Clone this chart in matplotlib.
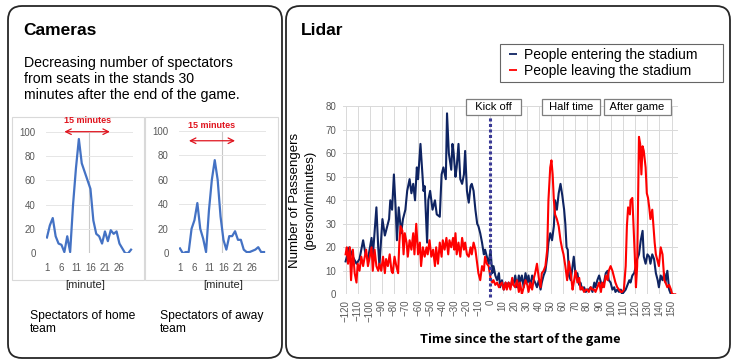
import matplotlib.pyplot as plt
from matplotlib.patches import FancyBboxPatch, Rectangle
from matplotlib.lines import Line2D

plt.rcParams['font.family'] = ['Liberation Sans', 'DejaVu Sans']

# ---- camera counts, minutes after the end of the game ----
minutes = list(range(1, 31))
home = [13, 23, 29, 14, 8, 7, 1, 14, 1, 40, 70, 94, 74, 67, 60, 53, 27, 16, 14, 8,
        18, 10, 19, 16, 18, 8, 4, 0, 0, 3]
away = [4, 0, 1, 1, 20, 27, 41, 20, 12, 1, 35, 60, 76, 60, 30, 11, 3, 14, 14, 18,
        11, 11, 3, 1, 1, 2, 3, 5, 1, 1]
minute_ticks = [1, 6, 11, 16, 21, 26]
home_window = (7.0, 22.7)
away_window = (4.1, 20.0)

# ---- lidar counts, minutes since kick off ----
enter_t = [-120, -117, -114, -111, -108.5, -105.5, -103.5, -101.5, -98.5, -97.5,
           -94.5, -93, -92, -89.5, -87.5, -85.5, -84, -83, -81.5, -80,
           -78.5, -77.5, -76, -74, -72.5, -70.5, -69, -67, -65.5, -64,
           -62.5, -61, -60, -58, -57, -55.5, -54.5, -52.5, -51.5, -50,
           -48, -46, -44.5, -42, -40.5, -39, -37, -36, -34.5, -32.5,
           -31.5, -30.5, -29, -28, -26.5, -25, -23.5, -22, -21, -19.5,
           -18, -16.5, -15.5, -14, -12.5, -11, -10, -8.5, -7, -5.5,
           -4.5, -3, -1.5, 0, 1.5, 2.5, 4, 5.5, 7, 8,
           9.5, 11, 12.5, 13.5, 15, 16.5, 18, 19, 20.5, 22,
           23.5, 24.5, 26, 27.5, 29, 30.5, 31.5, 33, 34.5, 36,
           37, 38.5, 40, 41.5, 42.5, 44, 45.5, 47, 48, 49.5,
           51, 52.5, 53.5, 55, 56.5, 58, 59.5, 61, 62, 63,
           64, 65, 66.5, 68, 69, 70.5, 72, 73.5, 74.5, 76,
           77.5, 79, 80, 81.5, 83, 84.5, 86, 87, 88.5, 90,
           91.5, 92.5, 94, 95.5, 97, 98, 99.5, 101, 102.5, 103.5,
           105, 106.5, 108, 109, 110.5, 112, 113.5, 115, 116, 117.5,
           119, 120.5, 121.5, 123, 124.5, 126, 127, 128.5, 130, 131.5,
           132.5, 134, 135.5, 137, 138.5, 139.5, 141, 142.5, 144, 145,
           146.5, 148, 149.5, 151]
enter_v = [14, 20, 16, 13, 15, 23, 17, 15, 24, 16,
           37, 20, 12, 32, 25, 29, 32, 40, 36, 51,
           36, 23, 37, 26, 32, 36, 44, 49, 43, 47,
           40, 54, 49, 64, 56, 44, 46, 22, 40, 44,
           36, 40, 34, 33, 51, 54, 49, 77, 60, 53,
           64, 60, 50, 54, 64, 49, 47, 51, 61, 44,
           39, 46, 47, 44, 36, 30, 29, 26, 22, 17,
           19, 16, 13, 19, 9, 12, 8, 6, 9, 3,
           6, 2, 5, 3, 5, 3, 6, 4, 8, 3,
           8, 5, 8, 3, 9, 5, 8, 3, 8, 6,
           5, 3, 6, 2, 5, 8, 10, 16, 22, 26,
           23, 29, 40, 36, 43, 47, 42, 36, 30, 20,
           19, 8, 6, 12, 16, 8, 9, 4, 5, 2,
           3, 1, 2, 2, 3, 1, 5, 3, 6, 8,
           5, 3, 5, 9, 10, 6, 5, 2, 3, 1,
           2, 1, 2, 0, 1, 2, 4, 6, 5, 8,
           9, 12, 15, 17, 23, 27, 16, 13, 17, 16,
           13, 17, 15, 9, 6, 3, 8, 6, 9, 5,
           10, 2, 0, 0]

leave_t = [-120, -119, -118, -116.5, -115.5, -114, -112.5, -111, -110, -108.5,
           -107, -105.5, -104.5, -103, -101.5, -100, -98.5, -97.5, -96, -94.5,
           -93, -92, -90.5, -89, -87.5, -86.5, -85, -83.5, -82, -81,
           -79.5, -78, -76.5, -75.5, -74.5, -73, -72, -71, -69.5, -68.5,
           -67, -65.5, -64, -63, -61.5, -60, -58.5, -57.5, -56, -54.5,
           -53, -52, -50.5, -49, -47.5, -46, -45, -43.5, -42, -40.5,
           -39.5, -38, -36.5, -35, -34, -32.5, -31, -30, -29, -28,
           -26.5, -25, -23.5, -22, -21, -19.5, -18, -16.5, -15.5, -14,
           -12.5, -11, -10, -8.5, -7, -5.5, -4.5, -3, -1.5, 0,
           1.5, 2.5, 4, 5.5, 7, 8, 9.5, 11, 12.5, 13.5,
           15, 16.5, 18, 19, 20.5, 22, 23.5, 24.5, 26, 27.5,
           29, 30.5, 31.5, 33, 34.5, 36, 37, 38.5, 40, 41.5,
           42.5, 44, 45.5, 47, 48, 49.5, 50.5, 51.5, 52.5, 53.5,
           55, 56.5, 58, 59.5, 60.5, 62, 63.5, 65, 66.5, 68,
           69, 70.5, 72, 73.5, 74.5, 76, 77.5, 79, 80, 81.5,
           83, 84.5, 86, 87, 88.5, 90, 91.5, 92.5, 94, 95.5,
           97, 98, 99.5, 101, 102.5, 103.5, 105, 106.5, 108, 109,
           110.5, 112, 113, 114, 115.5, 116, 117.5, 118.5, 119.5, 120.5,
           121.5, 123, 124, 125, 126, 127, 128.5, 129.5, 130.5, 131.5,
           132.5, 134, 135, 136, 137, 138, 139.5, 141, 142.5, 144,
           145, 146.5, 148, 149.5, 150.5, 153]
leave_v = [17, 20, 13, 20, 6, 19, 9, 5, 13, 10,
           16, 12, 15, 19, 12, 16, 20, 10, 19, 12,
           10, 13, 10, 16, 9, 15, 12, 17, 10, 9,
           16, 12, 9, 22, 29, 27, 17, 26, 22, 16,
           23, 19, 26, 17, 30, 17, 22, 12, 20, 16,
           20, 17, 23, 16, 19, 12, 20, 13, 22, 16,
           23, 19, 24, 17, 23, 20, 24, 19, 26, 17,
           22, 16, 24, 19, 22, 17, 16, 20, 17, 22,
           19, 13, 9, 6, 12, 10, 16, 13, 12, 7,
           5, 6, 4, 5, 3, 4, 5, 2, 5, 2,
           5, 2, 7, 4, 3, 6, 1, 5, 0, 3,
           6, 4, 1, 5, 2, 7, 9, 13, 7, 3,
           9, 10, 12, 19, 40, 54, 57, 51, 40, 34,
           32, 29, 23, 19, 17, 12, 6, 14, 9, 2,
           5, 10, 5, 7, 2, 3, 1, 2, 2, 1,
           3, 2, 2, 1, 3, 5, 1, 5, 3, 8,
           6, 10, 12, 10, 7, 5, 3, 2, 1, 1,
           2, 12, 29, 37, 34, 40, 41, 29, 17, 3,
           12, 67, 64, 51, 63, 61, 54, 43, 41, 37,
           32, 36, 29, 22, 17, 15, 12, 20, 17, 6,
           5, 3, 4, 2, 0, 0]

kickoff_t = 0
event_labels = ['  Kick off  ', ' Half time ', ' After game ']
event_label_t = [2.5, 66.7, 121.4]
series_names = ['People entering the stadium', 'People leaving the stadium']

W, H = 740, 364
fig = plt.figure(figsize=(W / 100, H / 100), dpi=100)


def px_rect(x0, y0, x1, y1):
    return [x0 / W, 1 - y1 / H, (x1 - x0) / W, (y1 - y0) / H]


# background layer, in pixel units
bg = fig.add_axes([0, 0, 1, 1], zorder=0)
bg.set_xlim(0, W)
bg.set_ylim(H, 0)
bg.axis('off')

for x0, y0, x1, y1 in [(8, 6, 282, 358), (286, 6, 730, 358)]:
    bg.add_patch(FancyBboxPatch((x0, y0), x1 - x0, y1 - y0,
                                boxstyle='round,pad=0,rounding_size=14',
                                fc='white', ec='#262626', lw=1.3))
for x0, y0, x1, y1 in [(12, 117, 144, 280), (145, 117, 278, 280)]:
    bg.add_patch(Rectangle((x0, y0), x1 - x0, y1 - y0, fc='white', ec='#d9d9d9', lw=0.8))

bg.text(23, 35, 'Cameras', fontsize=12.5, fontweight='bold', va='baseline')
bg.text(301, 35, 'Lidar', fontsize=12.5, fontweight='bold', va='baseline')
bg.text(24, 55.5, 'Decreasing number of spectators\nfrom seats in the stands 30\n'
        'minutes after the end of the game.', fontsize=10.2, va='top', linespacing=1.22)
bg.text(30, 309.5, 'Spectators of home\nteam', fontsize=8.7, va='top', linespacing=1.18)
bg.text(160, 309.5, 'Spectators of away\nteam', fontsize=8.7, va='top', linespacing=1.18)
bg.text(85, 285, '[minute]', fontsize=8, ha='center', va='center', color='#262626')
bg.text(223, 285, '[minute]', fontsize=8, ha='center', va='center', color='#262626')
bg.text(520, 339, 'Time since the start of the game', fontsize=9.2, fontweight='bold',
        ha='center', va='center', family=['Noto Sans CJK JP', 'DejaVu Sans'])

# ---- small camera charts ----
small = [
    (px_rect(45.5, 131.7, 132.5, 253.3), home, home_window, 100, 109.6),
    (px_rect(178.5, 130.7, 265.5, 253.3), away, away_window, 91.8, 103.9),
]
for rect, vals, window, arrow_y, text_y in small:
    a = fig.add_axes(rect, zorder=1)
    a.patch.set_alpha(0)
    a.plot(minutes, vals, color='#4472c4', lw=1.6)
    a.set_xlim(0.5, 30.5)
    a.set_ylim(0, 100)
    a.set_xticks(minute_ticks)
    a.set_yticks(range(0, 101, 20))
    a.tick_params(length=0, labelsize=7, labelcolor='#595959', pad=7)
    a.grid(axis='y', color='#e6e6e6', lw=0.7)
    a.set_axisbelow(True)
    a.axvline(15.5, color='#c8c8c8', lw=0.8, zorder=0)
    for s in a.spines.values():
        s.set_visible(False)
    a.annotate('', xy=(window[0], arrow_y), xytext=(window[1], arrow_y),
               arrowprops=dict(arrowstyle='<->', color='#e0141e', lw=0.9,
                               shrinkA=0, shrinkB=0),
               annotation_clip=False)
    a.text((window[0] + window[1]) / 2, text_y, '15 minutes', color='#e0141e',
           fontsize=6.5, fontweight='bold', ha='center', va='center', clip_on=False)

# ---- lidar chart ----
ax = fig.add_axes(px_rect(343.2, 106.3, 677.6, 294.3), zorder=1)
ax.patch.set_alpha(0)
l1, = ax.plot(enter_t, enter_v, color='#0f2462', lw=1.5)
l2, = ax.plot(leave_t, leave_v, color='#ff0000', lw=1.5)
ax.axvline(kickoff_t, ymin=-0.015, ymax=0.97, color='#3a3a96', lw=2.2,
           ls=(0, (1.0, 0.8)), clip_on=False, zorder=3)
ax.set_xlim(-122, 155)
ax.set_ylim(0, 80)
ax.set_xticks(range(-120, 151, 10))
ax.set_yticks(range(0, 81, 10))
ax.tick_params(axis='x', labelrotation=90, labelsize=7, labelcolor='#595959', length=0, pad=4)
ax.tick_params(axis='y', labelsize=7, labelcolor='#595959', length=0, pad=5)
ax.grid(True, color='#d9d9d9', lw=0.7)
ax.set_axisbelow(True)
for s in ax.spines.values():
    s.set_visible(False)
ax.set_ylabel('Number of Passengers\n(person/minutes)', fontsize=9.5, linespacing=1.3,
              labelpad=7)

for lab, t in zip(event_labels, event_label_t):
    ax.text(t, 79.7, lab, fontsize=8, ha='center', va='center', zorder=5, clip_on=False,
            bbox=dict(boxstyle='square,pad=0.3', fc='white', ec='#7f7f7f', lw=0.9))

handles = [Line2D([], [], color=l.get_color(), marker='_', ls='none', ms=6, mew=1.3)
           for l in (l1, l2)]
leg = ax.legend(handles, series_names, loc='upper left',
                bbox_to_anchor=(500 / W, 1 - 85 / H, 223 / W, 41 / H),
                bbox_transform=fig.transFigure, mode='expand', fontsize=10,
                frameon=True, fancybox=False, edgecolor='#404040',
                handlelength=1.2, handletextpad=0.25, borderpad=0.3,
                labelspacing=0.1, borderaxespad=0)
leg.get_frame().set_linewidth(0.8)

fig.savefig('out.png', dpi=100)
